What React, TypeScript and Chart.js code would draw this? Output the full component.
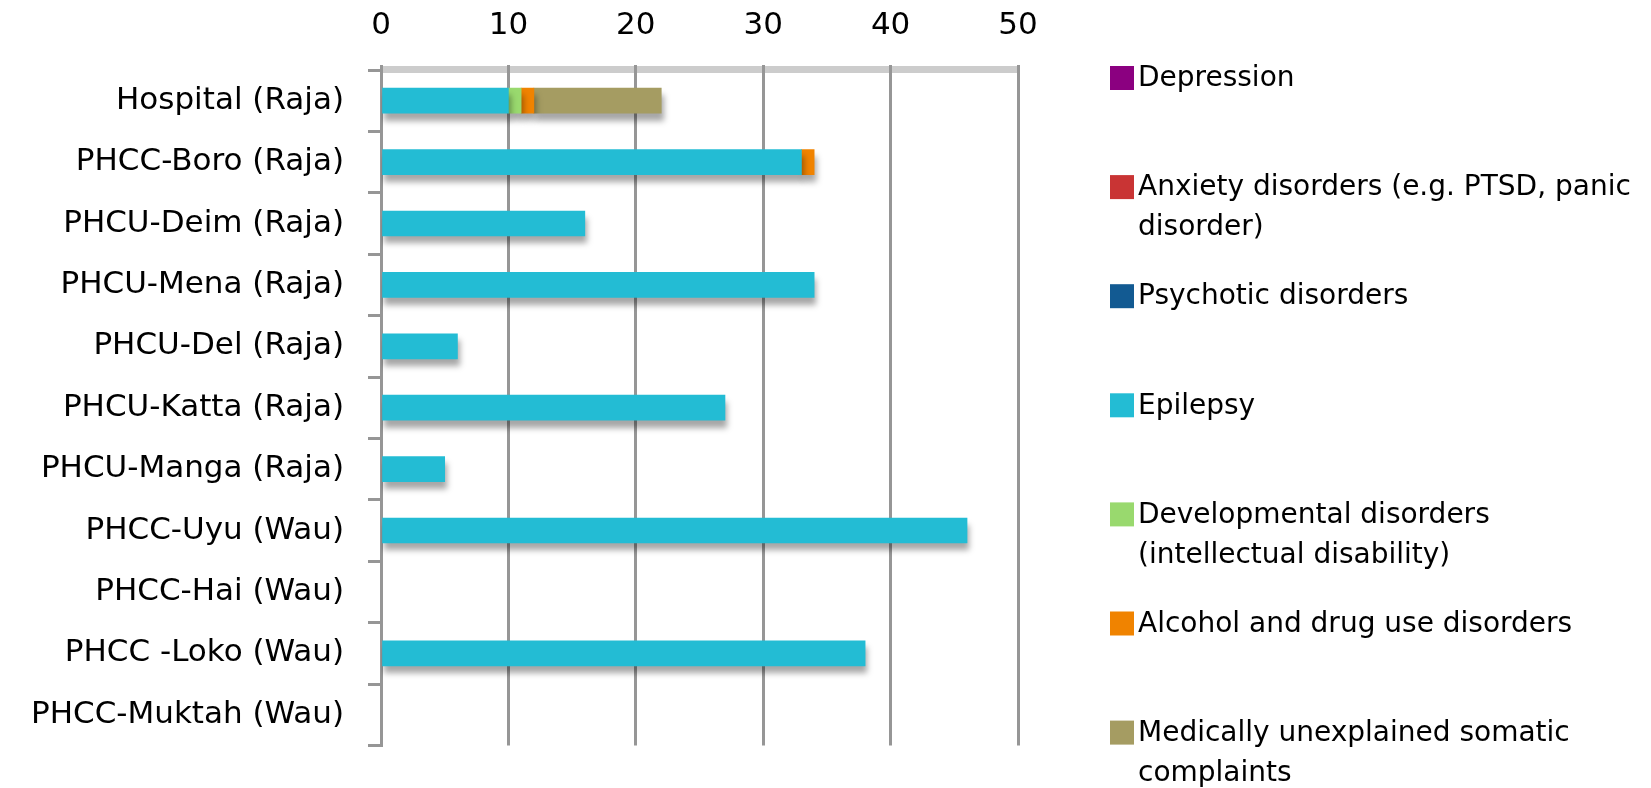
import React, { useEffect, useRef } from 'react';
import { Chart, registerables } from 'chart.js';

Chart.register(...registerables);

const categories = [
  'Hospital (Raja)',
  'PHCC-Boro (Raja)',
  'PHCU-Deim (Raja)',
  'PHCU-Mena (Raja)',
  'PHCU-Del (Raja)',
  'PHCU-Katta (Raja)',
  'PHCU-Manga (Raja)',
  'PHCC-Uyu (Wau)',
  'PHCC-Hai (Wau)',
  'PHCC -Loko (Wau)',
  'PHCC-Muktah (Wau)',
];

const depression = [0, 0, 0, 0, 0, 0, 0, 0, 0, 0, 0];
const anxiety = [0, 0, 0, 0, 0, 0, 0, 0, 0, 0, 0];
const psychotic = [0, 0, 0, 0, 0, 0, 0, 0, 0, 0, 0];
const epilepsy = [10, 33, 16, 34, 6, 27, 5, 46, 0, 38, 0];
const developmental = [1, 0, 0, 0, 0, 0, 0, 0, 0, 0, 0];
const alcohol = [1, 1, 0, 0, 0, 0, 0, 0, 0, 0, 0];
const somatic = [10, 0, 0, 0, 0, 0, 0, 0, 0, 0, 0];

const seriesNames = [
  'Depression',
  'Anxiety disorders (e.g. PTSD, panic disorder)',
  'Psychotic disorders',
  'Epilepsy',
  'Developmental disorders (intellectual disability)',
  'Alcohol and drug use disorders',
  'Medically unexplained somatic complaints',
];
const seriesColors = ['#8B0080', '#C93434', '#125A92', '#23BCD4', '#99D96E', '#F08300', '#A59C62'];
const seriesValues = [depression, anxiety, psychotic, epilepsy, developmental, alcohol, somatic];

const xMin = 0;
const xMax = 50;
const xStep = 10;

const FONT = '"DejaVu Sans", Verdana, sans-serif';
const GRID = '#969696';

const bandPlugin = {
  id: 'topBand',
  beforeDraw(chart: any) {
    const { ctx, chartArea } = chart;
    ctx.save();
    ctx.fillStyle = '#cccccc';
    ctx.fillRect(chartArea.left, chartArea.top - 4, chartArea.right - chartArea.left, 7);
    ctx.restore();
  },
};

const shadowPlugin = {
  id: 'barShadow',
  beforeDatasetsDraw(chart: any) {
    const ctx = chart.ctx;
    ctx.save();
    ctx.shadowColor = 'rgba(0,0,0,0.35)';
    ctx.shadowOffsetY = 7;
    ctx.shadowOffsetX = 2;
    ctx.shadowBlur = 6;
  },
  afterDatasetsDraw(chart: any) {
    chart.ctx.restore();
  },
};

function wrap(ctx: CanvasRenderingContext2D, text: string, maxWidth: number): string[] {
  const words = text.split(' ');
  const lines: string[] = [];
  let cur = '';
  for (const w of words) {
    const test = cur ? cur + ' ' + w : w;
    if (ctx.measureText(test).width > maxWidth && cur) {
      lines.push(cur);
      cur = w;
    } else {
      cur = test;
    }
  }
  if (cur) lines.push(cur);
  return lines;
}

const legendPlugin = {
  id: 'sideLegend',
  afterDraw(chart: any) {
    const { ctx } = chart;
    const x0 = 1110;
    const y0 = 78;
    const pitch = 109.1;
    const lineH = 40;
    ctx.save();
    ctx.font = `28px ${FONT}`;
    ctx.textBaseline = 'middle';
    ctx.textAlign = 'left';
    chart.data.datasets.forEach((ds: any, i: number) => {
      const y = y0 + i * pitch;
      ctx.fillStyle = ds.backgroundColor;
      ctx.fillRect(x0, y - 12, 24, 24);
      ctx.fillStyle = '#000';
      const lines = wrap(ctx, ds.label, 505);
      lines.forEach((ln, k) => ctx.fillText(ln, x0 + 28, y + 1 + k * lineH));
    });
    ctx.restore();
  },
};

export default function App() {
  const ref = useRef<HTMLCanvasElement>(null);

  useEffect(() => {
    if (!ref.current) return;
    const chart = new Chart(ref.current, {
      type: 'bar',
      data: {
        labels: categories,
        datasets: seriesNames.map((name, i) => ({
          label: name,
          data: seriesValues[i].map((v) => (v === 0 ? null : v)),
          backgroundColor: seriesColors[i],
          borderWidth: 0,
          barThickness: 25,
        })),
      },
      options: {
        indexAxis: 'y',
        responsive: false,
        animation: false,
        devicePixelRatio: 1,
        events: [],
        layout: { padding: { left: 0, right: 633, top: 0, bottom: 24 } },
        plugins: {
          legend: { display: false },
          tooltip: { enabled: false },
        },
        scales: {
          x: {
            stacked: true,
            position: 'top',
            min: xMin,
            max: xMax,
            ticks: {
              stepSize: xStep,
              color: '#000',
              font: { family: FONT, size: 31 },
              padding: 20,
              maxRotation: 0,
            },
            grid: { color: GRID, lineWidth: 3, drawTicks: true, tickLength: 5 },
            border: { display: false },
            afterFit: (s: any) => {
              s.height = 70;
            },
          },
          y: {
            stacked: true,
            ticks: {
              color: '#000',
              font: { family: FONT, size: 31 },
              padding: 24,
            },
            grid: {
              drawOnChartArea: false,
              drawTicks: true,
              tickLength: 13,
              color: GRID,
              lineWidth: 3,
              offset: true,
            },
            border: { display: true, color: GRID, width: 3 },
            afterFit: (s: any) => {
              s.width = 381;
            },
          },
        },
      } as any,
      plugins: [bandPlugin, shadowPlugin, legendPlugin],
    });
    return () => chart.destroy();
  }, []);

  return (
    <div style={{ position: 'fixed', left: 0, top: 0, width: 1651, height: 788, background: '#fff' }}>
      <canvas ref={ref} width={1651} height={788} style={{ display: 'block', width: 1651, height: 788 }} />
    </div>
  );
}
